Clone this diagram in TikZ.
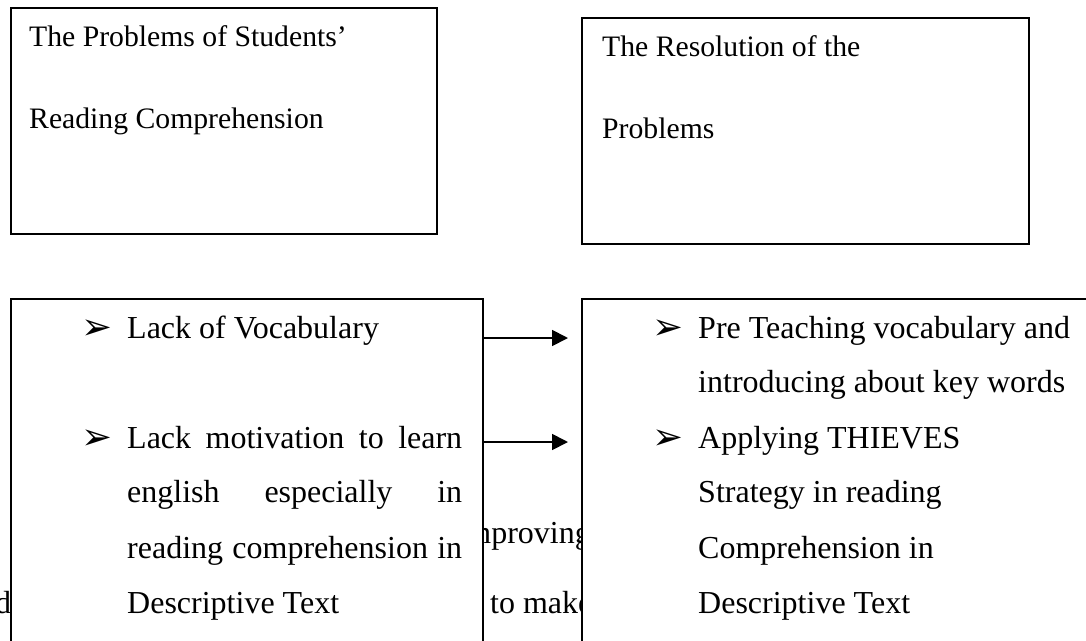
\documentclass[tikz,border=0pt]{standalone}
\usepackage{fontspec}
\setmainfont{Liberation Serif}
\newfontfamily\symfont{DejaVu Sans}
\usetikzlibrary{arrows.meta}

\begin{document}
\begin{tikzpicture}[x=1pt,y=-1pt,
  frame/.style={draw, line width=1.7pt, fill=white, anchor=north west, inner sep=0pt},
  txt/.style={anchor=base west, inner sep=0pt, font=\fontsize{32}{38}\selectfont},
  head/.style={anchor=base west, inner sep=0pt, font=\fontsize{29.7}{36}\selectfont},
  bullet/.style={anchor=base west, inner sep=0pt, font=\symfont\fontsize{37}{42}\selectfont},
  link/.style={-{Triangle[length=16pt,width=16pt]}, line width=1.8pt, shorten >=13pt}]
\useasboundingbox (0,0) rectangle (1086,640);
\clip (0,0) rectangle (1086,640);

% page text running underneath the boxes
\node[txt, anchor=base east] (under1) at (591,543) {improving};
\node[txt] (under2) at (490,613) {to make};
\node[txt] (under3) at (-5,613) {d};

% heading boxes
\node[frame, minimum width=426pt, minimum height=226pt] (b1) at (10,7) {};
\node[frame, minimum width=447pt, minimum height=226pt] (b2) at (581,17) {};
\node[head] (h1a) at (29,46) {The Problems of Students’};
\node[head] (h1b) at (29,128) {Reading Comprehension};
\node[head] (h2a) at (602,56) {The Resolution of the};
\node[head] (h2b) at (602,138) {Problems};

% problem and resolution boxes
\node[frame, minimum width=472pt, minimum height=400pt] (b3) at (10,298) {};
\node[frame, minimum width=560pt, minimum height=400pt] (b4) at (581,298) {};

% problems
\node[bullet] (p1b) at (81,339) {➢};
\node[txt] (p1) at (127,338) {Lack of Vocabulary};
\node[bullet] (p2b) at (81,449) {➢};
\node[txt] (p2a) at (127,448) {\makebox[335pt][s]{Lack motivation to learn}};
\node[txt] (p2b2) at (127,502) {\makebox[335pt][s]{english especially in}};
\node[txt] (p2c) at (127,558) {\makebox[335pt][s]{reading comprehension in}};
\node[txt] (p2d) at (127,613) {Descriptive Text};

% resolutions
\node[bullet] (r1b) at (652,339) {➢};
\node[txt] (r1a) at (698,338) {Pre Teaching vocabulary and};
\node[txt] (r1c) at (698,392) {introducing about key words};
\node[bullet] (r2b) at (652,449) {➢};
\node[txt] (r2a) at (698,448) {Applying THIEVES};
\node[txt] (r2c) at (698,502) {Strategy in reading};
\node[txt] (r2d) at (698,558) {Comprehension in};
\node[txt] (r2e) at (698,613) {Descriptive Text};

% connectors
\coordinate (y1) at (0,338);
\coordinate (y2) at (0,442);
\draw[link] (b3.east |- y1) -- (b4.west |- y1);
\draw[link] (b3.east |- y2) -- (b4.west |- y2);
\end{tikzpicture}
\end{document}
